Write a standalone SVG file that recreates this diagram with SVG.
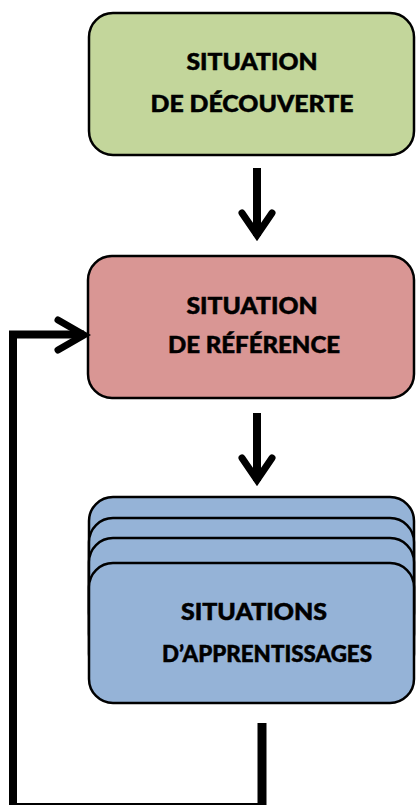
<svg xmlns="http://www.w3.org/2000/svg" width="417" height="805" viewBox="0 0 417 805">
<style>
.box{stroke:#000;stroke-width:2.5}
.lbl{font-family:Lato,"Liberation Sans",Arial,sans-serif;font-weight:900;font-size:23.5px;fill:#000;stroke:#000;stroke-width:0.5;text-anchor:middle}
.ln{fill:none;stroke:#000;stroke-width:8}
.hd{fill:none;stroke:#000;stroke-width:7;stroke-linecap:round;stroke-linejoin:miter;stroke-miterlimit:10}
</style>
<rect width="417" height="805" fill="#fff"/>
<g id="decouverte">
<rect class="box" x="89" y="13" width="325" height="142" rx="24" fill="#C3D69B"/>
<text class="lbl" x="252" y="70" textLength="131" lengthAdjust="spacingAndGlyphs">SITUATION</text>
<text class="lbl" x="252" y="112" textLength="203" lengthAdjust="spacingAndGlyphs">DE DÉCOUVERTE</text>
</g>
<g id="reference">
<rect class="box" x="88" y="256" width="326" height="142" rx="24" fill="#D99694"/>
<text class="lbl" x="252" y="314" textLength="131" lengthAdjust="spacingAndGlyphs">SITUATION</text>
<text class="lbl" x="254" y="353" textLength="172" lengthAdjust="spacingAndGlyphs">DE RÉFÉRENCE</text>
</g>
<g id="apprentissages">
<rect class="box" x="89" y="497" width="325" height="140" rx="24" fill="#95B3D7"/>
<rect class="box" x="89" y="518" width="325" height="140" rx="24" fill="#95B3D7"/>
<rect class="box" x="89" y="538" width="325" height="140" rx="24" fill="#95B3D7"/>
<rect class="box" x="89" y="563" width="325" height="140" rx="24" fill="#95B3D7"/>
<text class="lbl" x="254" y="620" textLength="146" lengthAdjust="spacingAndGlyphs">SITUATIONS</text>
<text class="lbl" x="267" y="662" textLength="210" lengthAdjust="spacingAndGlyphs">D’APPRENTISSAGES</text>
</g>
<g id="connectors">
<line class="ln" x1="257" y1="168" x2="257" y2="236"/>
<polyline class="hd" points="242,213 257,235 272,213"/>
<line class="ln" x1="257" y1="413" x2="257" y2="481"/>
<polyline class="hd" points="242,458 257,480 272,458"/>
<polyline class="ln" points="262,723 262,807 13,807 13,334.5 84,334.5" stroke-width="7"/>
<line x1="262" y1="723" x2="262" y2="807" stroke="#000" stroke-width="9"/>
<line x1="13" y1="334" x2="13" y2="807" stroke="#000" stroke-width="8"/>
<polyline class="hd" points="58,320 84,335 58,350"/>
</g>
</svg>
